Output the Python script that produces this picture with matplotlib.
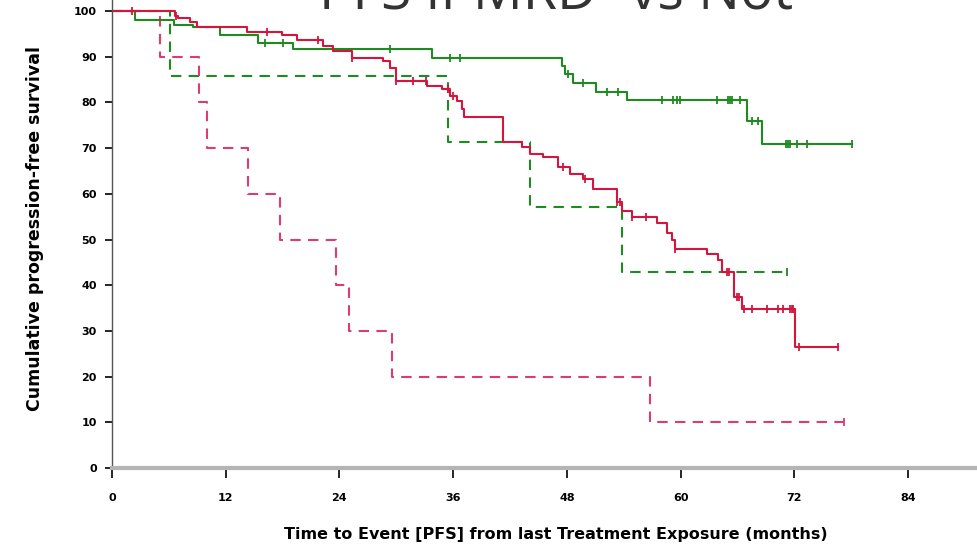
import numpy as np
import matplotlib.pyplot as plt

# MRD- sustained (green solid)
green_t = [0, 2.4, 6.5, 8.5, 11.4, 15.4, 19.1, 33.8, 47.5, 47.8, 48.7, 51.1, 54.3, 67.0, 68.6]
green_s = [100, 98.0, 97.0, 96.4, 94.7, 93.1, 91.6, 89.8, 88.0, 86.2, 84.3, 82.2, 80.6, 76.0, 70.9]
green_end = 78.1
green_cens = [16.1, 18.0, 29.3, 35.7, 36.7, 48.1, 49.7, 52.2, 53.4, 58.0, 59.2, 59.6, 59.9,
              63.8, 65.0, 65.2, 65.4, 66.3, 67.5, 68.2, 71.1, 71.3, 71.5, 72.3, 73.3, 78.1]

# red solid
red_t = [0, 6.6, 7.0, 8.2, 9.0, 14.2, 17.9, 19.5, 22.3, 23.3, 25.3, 28.6, 29.3, 30.0, 33.2,
         34.8, 35.7, 36.4, 36.9, 37.1, 41.3, 43.3, 44.1, 45.5, 47.1, 48.3, 49.7, 50.8, 53.3,
         53.8, 54.9, 57.5, 58.6, 59.1, 59.4, 62.8, 64.0, 64.4, 65.6, 66.5, 72.1]
red_s = [100, 98.9, 98.5, 97.5, 96.4, 95.3, 94.7, 93.6, 92.4, 91.3, 89.8, 89.1, 87.6, 84.7, 83.6,
         82.9, 81.4, 80.3, 78.6, 76.9, 71.3, 70.2, 68.7, 68.0, 65.8, 64.4, 63.3, 61.1, 58.1,
         56.3, 55.0, 53.7, 51.5, 49.8, 48.0, 46.9, 45.5, 42.8, 37.4, 34.9, 26.4]
red_end = 76.6
red_cens = [2.1, 6.8, 16.4, 21.7, 25.3, 30.0, 31.8, 33.1, 35.5, 36.0, 47.6, 49.9, 53.3, 53.6,
            54.9, 56.4, 59.4, 64.9, 65.1, 66.0, 66.2, 66.7, 67.5, 69.1, 70.3, 70.8, 71.5,
            71.8, 71.9, 72.5, 76.6]

# dashed curves
gdash_t = [0, 6.1, 35.5, 44.1, 53.8]
gdash_s = [100, 85.7, 71.4, 57.1, 42.9]
gdash_end = 71.2
gdash_cens = [71.2]

rdash_t = [0, 5.1, 9.2, 10.0, 14.3, 17.7, 23.6, 25.0, 29.6, 56.8]
rdash_s = [100, 90, 80, 70, 60, 50, 40, 30, 20, 10]
rdash_end = 77.2
rdash_cens = [77.2]

xticks = [0, 12, 24, 36, 48, 60, 72, 84]
yticks = [0, 10, 20, 30, 40, 50, 60, 70, 80, 90, 100]

GREEN = '#1f8a1f'
RED = '#d4163f'
RED_D = '#dc3c6e'


def km(ax, t, s, end, cens, color, ls, lw=1.5):
    tt = list(t) + [end]
    ss = list(s) + [s[-1]]
    ax.step(tt, ss, where='post', color=color, ls=ls, lw=lw)
    idx = np.searchsorted(t, cens, side='right') - 1
    cy = np.array(s)[idx]
    ax.plot(cens, cy, ls='none', marker='|', color=color, ms=6, mew=1.3)


fig = plt.figure(figsize=(9.77, 5.52), dpi=100)
ax = fig.add_axes([112 / 977, 84 / 552, 865 / 977, 468 / 552])

km(ax, gdash_t, gdash_s, gdash_end, gdash_cens, GREEN, (0, (5, 3.5)))
km(ax, rdash_t, rdash_s, rdash_end, rdash_cens, RED_D, (0, (5, 3.5)))
km(ax, green_t, green_s, green_end, green_cens, GREEN, '-')
km(ax, red_t, red_s, red_end, red_cens, RED, '-')

ax.set_xlim(0, 865 / 9.476)
ax.set_ylim(0, 468 / 4.57)
ax.spines['top'].set_visible(False)
ax.spines['right'].set_visible(False)
ax.spines['left'].set_color('#555555')
ax.spines['left'].set_linewidth(1.0)
ax.spines['bottom'].set_color('#b4b4b4')
ax.spines['bottom'].set_linewidth(3.0)

ax.set_xticks(xticks)
ax.set_yticks(yticks)
tick_font = dict(family='DejaVu Sans', weight='bold', size=8)
ax.set_xticklabels([str(v) for v in xticks], **tick_font)
ax.set_yticklabels([str(v) for v in yticks], **tick_font)
ax.tick_params(axis='x', direction='out', length=7, width=1.2, color='black', pad=11)
ax.tick_params(axis='y', direction='out', length=5, width=1.2, color='black', pad=6)

fig.text(35 / 977, 1 - 228 / 552, 'Cumulative progression-free survival', rotation=90,
         ha='center', va='center', family='DejaVu Sans', weight='bold', size=12.5)
fig.text(556 / 977, 1 - 535 / 552, 'Time to Event [PFS] from last Treatment Exposure (months)',
         ha='center', va='center', family='DejaVu Sans', weight='bold', size=11.5)
fig.text(556 / 977, 1 - 10 / 552, 'PFS if MRD- vs Not', ha='center', va='baseline',
         family='Open Sans', size=40, color='#333333')

fig.savefig('out.png', dpi=100)
